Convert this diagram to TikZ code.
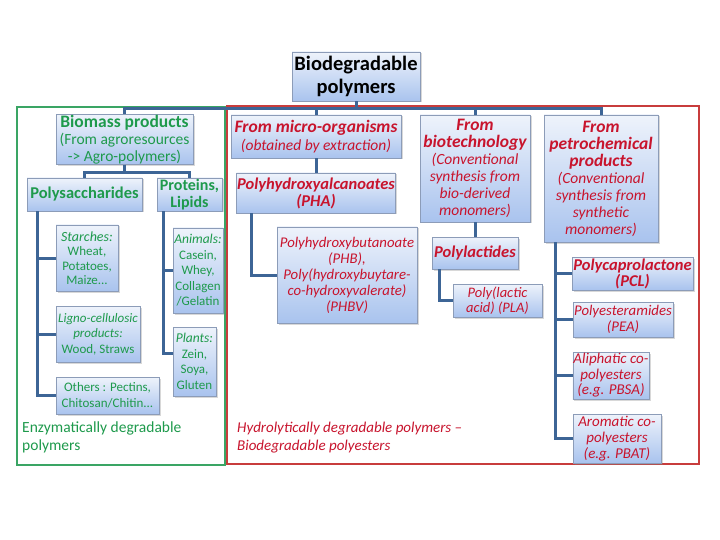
\documentclass[tikz,border=0pt]{standalone}
\usepackage{fontspec}
\setmainfont{Carlito}
\usepackage{xcolor}
\usepackage{tikz}
\usetikzlibrary{positioning, shadows}
\definecolor{leafgreen}{HTML}{1E9A4C}
\definecolor{rosered}{HTML}{C8142D}
\definecolor{framegreen}{HTML}{3AA564}
\definecolor{framered}{HTML}{C83C3C}
\definecolor{linkblue}{HTML}{3D6596}
\definecolor{boxtop}{HTML}{EEF3FB}
\definecolor{boxbottom}{HTML}{A9C3EE}
\definecolor{boxedge}{HTML}{8C9CB8}
\tikzstyle{cat} = [rectangle, draw=boxedge, top color=boxtop, bottom color=boxbottom, drop shadow={shadow xshift=1.5pt, shadow yshift=-1.5pt, opacity=0.3}, align=center, inner sep=0.5pt]
\tikzstyle{greenbox} = [cat, text=leafgreen]
\tikzstyle{redbox} = [cat, text=rosered]
\tikzstyle{link} = [line width=3pt, draw=linkblue]
\newcommand{\redhead}[1]{{\bfseries\fontsize{17.5}{18}\selectfont #1}}

\begin{document}
\begin{tikzpicture}[x=1pt, y=-1pt]
  \fill[white] (0,0) rectangle (720,540);
  \useasboundingbox (0,0) rectangle (720,540);

  % the two families
  \draw[framegreen, line width=2pt] (17,107) rectangle (225,465);
  \draw[framered, line width=2pt] (227,106) rectangle (699,464);

  \node (root) [cat, minimum width=128pt, minimum height=49pt, font=\fontsize{20.5}{23}\selectfont\bfseries] at (356,76.5) {Biodegradable\\polymers};

  % agro-polymers
  \node (biomass) [greenbox, minimum width=137pt, minimum height=47pt, font=\fontsize{15.5}{17}\selectfont] at (124.5,139.5) {{\bfseries\fontsize{17.5}{17}\selectfont Biomass products}\\(From agroresources\\-> Agro-polymers)};
  \node (polysac) [greenbox, minimum width=115pt, minimum height=33pt, font=\fontsize{16.5}{17}\selectfont\bfseries] at (84.5,194.5) {Polysaccharides};
  \node (proteins) [greenbox, minimum width=65pt, minimum height=33pt, font=\fontsize{16}{17}\selectfont\bfseries] at (189.5,194.5) {Proteins,\\Lipids};
  \node (starch) [greenbox, minimum width=62pt, minimum height=66pt, font=\fontsize{13}{14.5}\selectfont] at (87,258) {{\itshape\fontsize{14}{14.5}\selectfont Starches:}\\Wheat,\\Potatoes,\\Maize...};
  \node (ligno) [greenbox, minimum width=84pt, minimum height=56pt, font=\fontsize{13}{15.5}\selectfont] at (98,334) {\textit{Ligno-cellulosic}\\\textit{products:}\\Wood, Straws};
  \node (others) [greenbox, minimum width=103pt, minimum height=37pt, font=\fontsize{13}{15.5}\selectfont] at (107.5,395.5) {Others : Pectins,\\Chitosan/Chitin...};
  \node (animals) [greenbox, minimum width=50pt, minimum height=85pt, font=\fontsize{13}{15.5}\selectfont] at (198,270.5) {{\itshape\fontsize{13.5}{15.5}\selectfont Animals:}\\Casein,\\Whey,\\Collagen\\/Gelatin};
  \node (plants) [greenbox, minimum width=43pt, minimum height=69pt, font=\fontsize{13}{15.5}\selectfont] at (194.5,361.5) {{\itshape\fontsize{13.5}{15.5}\selectfont Plants:}\\Zein,\\Soya,\\Gluten};

  % polyesters
  \node (micro) [redbox, minimum width=170pt, minimum height=43pt, font=\fontsize{15.5}{18}\selectfont\itshape] at (316,136.5) {\redhead{From micro-organisms}\\(obtained by extraction)};
  \node (pha) [redbox, minimum width=158pt, minimum height=40pt, font=\fontsize{16.5}{17}\selectfont\bfseries\itshape] at (316,193) {Polyhydroxyalcanoates\\(PHA)};
  \node (phb) [redbox, minimum width=140pt, minimum height=96pt, font=\fontsize{14.8}{16}\selectfont\itshape] at (347,275) {Polyhydroxybutanoate\\(PHB),\\Poly(hydroxybuytare-\\co-hydroxyvalerate)\\(PHBV)};
  \node (biotech) [redbox, minimum width=110pt, minimum height=107pt, font=\fontsize{15.5}{17}\selectfont\itshape] at (475,168.5) {\redhead{From}\\\redhead{biotechnology}\\(Conventional\\synthesis from\\bio-derived\\monomers)};
  \node (polylac) [redbox, minimum width=86pt, minimum height=32pt, font=\fontsize{16.5}{17}\selectfont\bfseries\itshape] at (475,253) {Polylactides};
  \node (pla) [redbox, minimum width=89pt, minimum height=33pt, font=\fontsize{14.5}{15.5}\selectfont\itshape] at (497.5,300.5) {Poly(lactic\\acid) (PLA)};
  \node (petro) [redbox, minimum width=114pt, minimum height=127pt, font=\fontsize{15.5}{17}\selectfont\itshape] at (601,178.5) {\redhead{From}\\\redhead{petrochemical}\\\redhead{products}\\(Conventional\\synthesis from\\synthetic\\monomers)};
  \node (pcl) [redbox, minimum width=121pt, minimum height=33pt, font=\fontsize{16.5}{16}\selectfont\bfseries\itshape] at (632.5,273.5) {Polycaprolactone\\(PCL)};
  \node (pea) [redbox, minimum width=100pt, minimum height=35pt, font=\fontsize{14.8}{16}\selectfont\itshape] at (623,319.5) {Polyesteramides\\(PEA)};
  \node (aliph) [redbox, minimum width=76pt, minimum height=47pt, font=\fontsize{15}{15.5}\selectfont\itshape] at (611,375.5) {Aliphatic co-\\polyesters\\(e.g. PBSA)};
  \node (arom) [redbox, minimum width=88pt, minimum height=49pt, font=\fontsize{15}{16}\selectfont\itshape] at (617,438.5) {Aromatic co-\\polyesters\\(e.g. PBAT)};

  \node (enzlabel) [anchor=north west, align=left, inner sep=0pt, text=leafgreen, font=\fontsize{15.5}{18}\selectfont] at (22,422) {Enzymatically degradable\\polymers};
  \node (hydrolabel) [anchor=north west, align=left, inner sep=0pt, text=rosered, font=\fontsize{15}{18}\selectfont\itshape] at (237,422) {Hydrolytically degradable polymers –\\Biodegradable polyesters};

  % tree links
  \foreach \top in {biomass, micro, biotech, petro}
    \draw[link] (root.south) -- ++(0,7) -| (\top.north);
  \draw[link] (biomass.south) -- ++(0,8) -| (polysac.north);
  \draw[link] (biomass.south) -- ++(0,8) -| (proteins.north);
  \foreach \leaf in {starch, ligno, others}
    \draw[link] ([xshift=11pt]polysac.south west) |- (\leaf.west);
  \draw[link] ([xshift=7pt]proteins.south west) |- (animals.west);
  \draw[link] ([xshift=7pt]proteins.south west) |- ([yshift=8pt]plants.west);
  \draw[link] (micro.south) -- (pha.north);
  \draw[link] ([xshift=15pt]pha.south west) |- (phb.west);
  \draw[link] (biotech.south) -- (polylac.north);
  \draw[link] ([xshift=8pt]polylac.south west) |- (pla.west);
  \foreach \leaf in {pcl, pea, aliph, arom}
    \draw[link] ([xshift=12pt]petro.south west) |- (\leaf.west);
\end{tikzpicture}
\end{document}
